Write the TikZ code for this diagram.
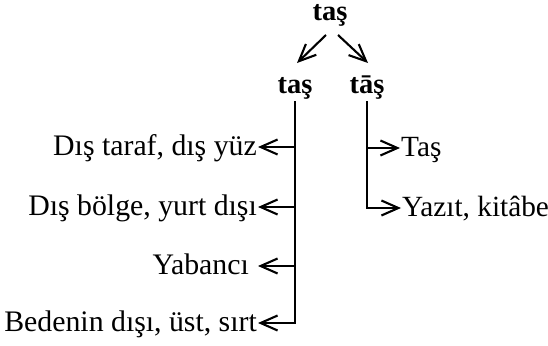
\documentclass[tikz,border=0pt]{standalone}
\usepackage{fontspec}
\setmainfont{Liberation Serif}
\usetikzlibrary{arrows.meta}
\begin{document}
\begin{tikzpicture}[x=1pt,y=-1pt,
  lbl/.style={font=\fontsize{29.3}{34}\selectfont, inner sep=0pt},
  lbll/.style={lbl, font=\fontsize{29.8}{34}\selectfont},
  head/.style={font=\fontsize{28.5}{34}\selectfont\bfseries, inner sep=0pt, anchor=base, text height=0.62em, text depth=0.2em},
  conn/.style={line width=2.1pt, line join=miter},
  arr/.style={conn,-{Straight Barb[length=17pt,width=15pt,line width=2.1pt]}}]
\useasboundingbox (0,0) rectangle (548,345);
% headwords
\node[head] (root) at (330,21) {taş};
\node[head] (L) at (295,93) {taş};
\node[head] (R) at (367,93) {tāş};
\coordinate (rl) at (326,35);
\coordinate (rr) at (338,35);
\coordinate (lt) at (297,63);
\coordinate (rt) at (368,63);
\draw[arr] (rl) -- (lt);
\draw[arr] (rr) -- (rt);
% left branch
\node[lbll, anchor=base east] (a1) at (257,155) {Dış taraf, dış yüz};
\node[lbll, anchor=base east] (a2) at (257,215) {Dış bölge, yurt dışı};
\node[lbll, anchor=base east] (a3) at (249,274) {Yabancı};
\node[lbll, anchor=base east] (a4) at (257,331) {Bedenin dışı, üst, sırt};
\coordinate (j1) at (295,147);
\coordinate (j2) at (295,207);
\coordinate (j3) at (295,266);
\coordinate (t1) at (258,147);
\coordinate (t2) at (258,207);
\coordinate (t3) at (258,266);
\coordinate (t4) at (258,323);
\draw[arr] ([yshift=-6pt]L.south) |- (t4);
\draw[arr] (j1) -- (t1);
\draw[arr] (j2) -- (t2);
\draw[arr] (j3) -- (t3);
% right branch
\node[lbl, anchor=base west] (b1) at (401,156) {Taş};
\node[lbl, anchor=base west] (b2) at (402,216) {Yazıt, kitâbe};
\coordinate (k1) at (367,148);
\coordinate (u1) at (400,148);
\coordinate (u2) at (401,208);
\draw[arr] ([yshift=-6pt]R.south) |- (u2);
\draw[arr] (k1) -- (u1);
\end{tikzpicture}
\end{document}
